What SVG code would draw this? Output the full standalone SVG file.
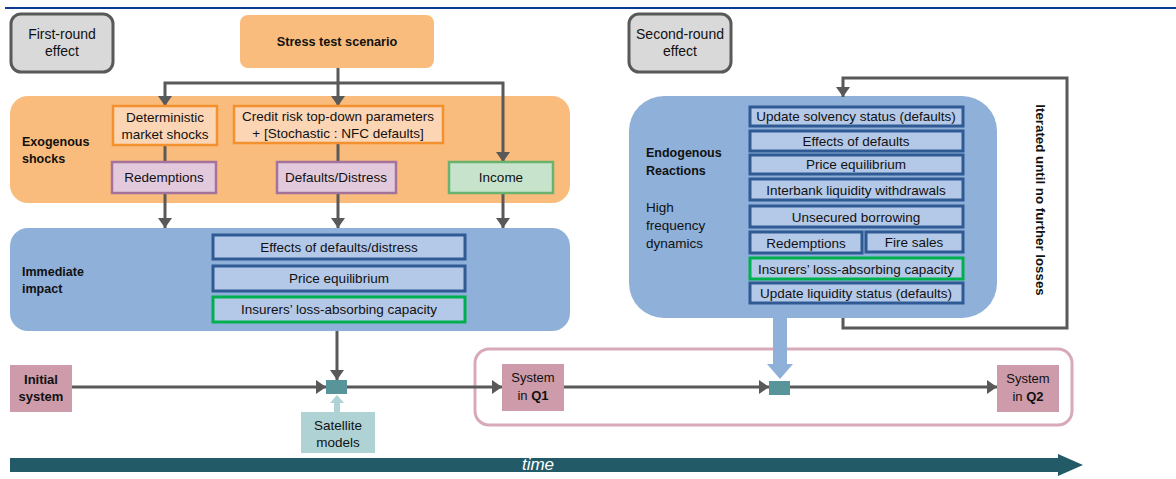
<svg xmlns="http://www.w3.org/2000/svg" width="1176" height="479" viewBox="0 0 1176 479">
<style>
text{font-family:"Liberation Sans",Arial,sans-serif;font-size:13.5px;fill:#111;}
.c{text-anchor:middle;}
.b{font-weight:bold;}
.lbl{font-size:12.5px;font-weight:bold;}
.gray{fill:#d9d9d9;stroke:#595959;stroke-width:3;}
.orng{fill:#f9bc7c;}
.obox{fill:#fcd5b4;stroke:#f4912f;stroke-width:2.5;}
.pbox{fill:#e3c9dc;stroke:#a4739c;stroke-width:2.5;}
.gbox{fill:#c7e3cb;stroke:#6ab36e;stroke-width:2.5;}
.blue{fill:#8eb0d9;}
.bbox{fill:#b4c8e8;stroke:#2f5a94;stroke-width:3;}
.gr{stroke:#00b04f;}
.sys{fill:#cd9ba9;}
.sq{fill:#57959b;}
.conn{fill:none;stroke:#595959;stroke-width:3;}
</style>
<defs>
<marker id="ah" viewBox="0 0 10 14" refX="10" refY="7" markerWidth="10" markerHeight="14" markerUnits="userSpaceOnUse" orient="auto">
<path d="M0,0 L10,7 L0,14 z" fill="#595959"/>
</marker>
</defs>
<rect width="1176" height="479" fill="#ffffff"/>
<line x1="5" y1="8" x2="1176" y2="8" stroke="#0b3a8f" stroke-width="2"/>

<!-- panels -->
<g id="exogenous">
<rect class="orng" x="10" y="96" width="560" height="107" rx="18"/>
<text class="lbl" x="22" y="146">Exogenous</text>
<text class="lbl" x="22" y="163">shocks</text>
</g>
<g id="immediate">
<rect class="blue" x="10" y="228" width="560" height="103" rx="18"/>
<text class="lbl" x="22" y="276">Immediate</text>
<text class="lbl" x="22" y="293">impact</text>
</g>
<g id="endogenous">
<rect class="blue" x="629" y="96" width="368" height="222" rx="35"/>
<text class="lbl" x="646" y="157">Endogenous</text>
<text class="lbl" x="646" y="175">Reactions</text>
<text x="646" y="212">High</text>
<text x="646" y="230">frequency</text>
<text x="646" y="248">dynamics</text>
</g>
<g id="second-round-frame">
<rect x="475" y="349" width="597" height="76" rx="14" fill="none" stroke="#d8aab8" stroke-width="3"/>
</g>

<!-- connectors -->
<g id="connectors">
<path class="conn" d="M338,68 V106" marker-end="url(#ah)"/>
<path class="conn" d="M338,83 H165 V106" marker-end="url(#ah)"/>
<path class="conn" d="M338,83 H503 V162" marker-end="url(#ah)"/>
<path class="conn" d="M165,146 V161"/>
<path class="conn" d="M338,143 V162"/>
<path class="conn" d="M165,193 V228" marker-end="url(#ah)"/>
<path class="conn" d="M338,193 V228" marker-end="url(#ah)"/>
<path class="conn" d="M503,193 V228" marker-end="url(#ah)"/>
<path class="conn" d="M337,331 V380" marker-end="url(#ah)"/>
<path class="conn" d="M72,387 H326" marker-end="url(#ah)"/>
<path class="conn" d="M347,387 H502" marker-end="url(#ah)"/>
<path class="conn" d="M564,387 H769" marker-end="url(#ah)"/>
<path class="conn" d="M790,387 H997" marker-end="url(#ah)"/>
<path class="conn" d="M843,318 V328 H1067 V78 H843 V97" marker-end="url(#ah)"/>
<polygon points="334,412 334,403 330,403 337,395 344,403 340,403 340,412" fill="#afd3d5"/>
<polygon points="773,318 773,364 767,364 780,379 793,364 787,364 787,318" fill="#8eb0d9"/>
</g>

<g id="first-round">
<rect class="gray" x="11" y="14" width="102" height="58" rx="10"/>
<text class="c" x="62" y="39" style="font-size:14px">First-round</text>
<text class="c" x="62" y="56" style="font-size:14px">effect</text>
</g>
<g id="second-round">
<rect class="gray" x="629" y="14" width="102" height="58" rx="10"/>
<text class="c" x="680" y="39" style="font-size:14px">Second-round</text>
<text class="c" x="680" y="56" style="font-size:14px">effect</text>
</g>
<g id="stress">
<rect class="orng" x="240" y="15" width="194" height="53" rx="8"/>
<text class="c b" x="337" y="46" style="font-size:12.7px">Stress test scenario</text>
</g>
<g id="deterministic">
<rect class="obox" x="113" y="106" width="104" height="39"/>
<text class="c" x="165" y="122">Deterministic</text>
<text class="c" x="165" y="139">market shocks</text>
</g>
<g id="credit">
<rect class="obox" x="234" y="106" width="209" height="37"/>
<text class="c" x="338" y="121">Credit risk top-down parameters</text>
<text class="c" x="338" y="138">+ [Stochastic : NFC defaults]</text>
</g>
<g id="redemptions1">
<rect class="pbox" x="112" y="162" width="104" height="31"/>
<text class="c" x="164" y="182">Redemptions</text>
</g>
<g id="defaults">
<rect class="pbox" x="277" y="162" width="119" height="31"/>
<text class="c" x="336" y="182">Defaults/Distress</text>
</g>
<g id="income">
<rect class="gbox" x="449" y="162" width="104" height="31"/>
<text class="c" x="501" y="182">Income</text>
</g>
<g id="imm-effects">
<rect class="bbox" x="213" y="235" width="252" height="24"/>
<text class="c" x="339" y="252">Effects of defaults/distress</text>
</g>
<g id="imm-price">
<rect class="bbox" x="213" y="266" width="252" height="25"/>
<text class="c" x="339" y="283">Price equilibrium</text>
</g>
<g id="imm-insurers">
<rect class="bbox gr" x="213" y="297" width="252" height="25"/>
<text class="c" x="339" y="314">Insurers’ loss-absorbing capacity</text>
</g>
<g id="end-solvency">
<rect class="bbox" x="750" y="107" width="213" height="19"/>
<text class="c" x="856" y="121">Update solvency status (defaults)</text>
</g>
<g id="end-effects">
<rect class="bbox" x="750" y="131" width="213" height="20"/>
<text class="c" x="856" y="146">Effects of defaults</text>
</g>
<g id="end-price">
<rect class="bbox" x="750" y="155" width="213" height="19"/>
<text class="c" x="856" y="169">Price equilibrium</text>
</g>
<g id="end-interbank">
<rect class="bbox" x="750" y="179" width="213" height="21"/>
<text class="c" x="856" y="194.5">Interbank liquidity withdrawals</text>
</g>
<g id="end-unsecured">
<rect class="bbox" x="750" y="206" width="213" height="21"/>
<text class="c" x="856" y="221.5">Unsecured borrowing</text>
</g>
<g id="end-redemptions">
<rect class="bbox" x="750" y="232" width="112" height="21"/>
<text class="c" x="806" y="247.5">Redemptions</text>
</g>
<g id="end-firesales">
<rect class="bbox" x="866" y="232" width="97" height="20"/>
<text class="c" x="914" y="246.5">Fire sales</text>
</g>
<g id="end-insurers">
<rect class="bbox gr" x="750" y="258" width="213" height="21"/>
<text class="c" x="856" y="273.5">Insurers’ loss-absorbing capacity</text>
</g>
<g id="end-liquidity">
<rect class="bbox" x="750" y="283" width="213" height="20"/>
<text class="c" x="856" y="298">Update liquidity status (defaults)</text>
</g>
<g id="iterated">
<text class="b" transform="translate(1036,200) rotate(90)" text-anchor="middle" style="font-size:13.3px">Iterated until no further losses</text>
</g>
<g id="initial">
<rect class="sys" x="10" y="365" width="62" height="47"/>
<text class="c b" x="41" y="384" style="font-size:13px">Initial</text>
<text class="c b" x="41" y="401" style="font-size:13px">system</text>
</g>
<g id="square1"><rect class="sq" x="326" y="380" width="21" height="14"/></g>
<g id="square2"><rect class="sq" x="769" y="381" width="21" height="14"/></g>
<g id="q1">
<rect class="sys" x="502" y="364" width="62" height="47"/>
<text class="c" x="533" y="382" style="font-size:13px">System</text>
<text class="c" x="533" y="400" style="font-size:13px">in <tspan class="b">Q1</tspan></text>
</g>
<g id="q2">
<rect class="sys" x="997" y="365" width="62" height="47"/>
<text class="c" x="1028" y="383" style="font-size:13px">System</text>
<text class="c" x="1028" y="401" style="font-size:13px">in <tspan class="b">Q2</tspan></text>
</g>
<g id="satellite">
<rect x="301" y="412" width="74" height="41" fill="#afd3d5"/>
<text class="c" x="338" y="430">Satellite</text>
<text class="c" x="338" y="447">models</text>
</g>
<g id="time">
<polygon points="10,458 1058,458 1058,454 1083,465 1058,476 1058,472 10,472" fill="#225a68"/>
<text class="c" x="538" y="470" style="font-size:17px;font-style:italic;fill:#ffffff">time</text>
</g>
</svg>
